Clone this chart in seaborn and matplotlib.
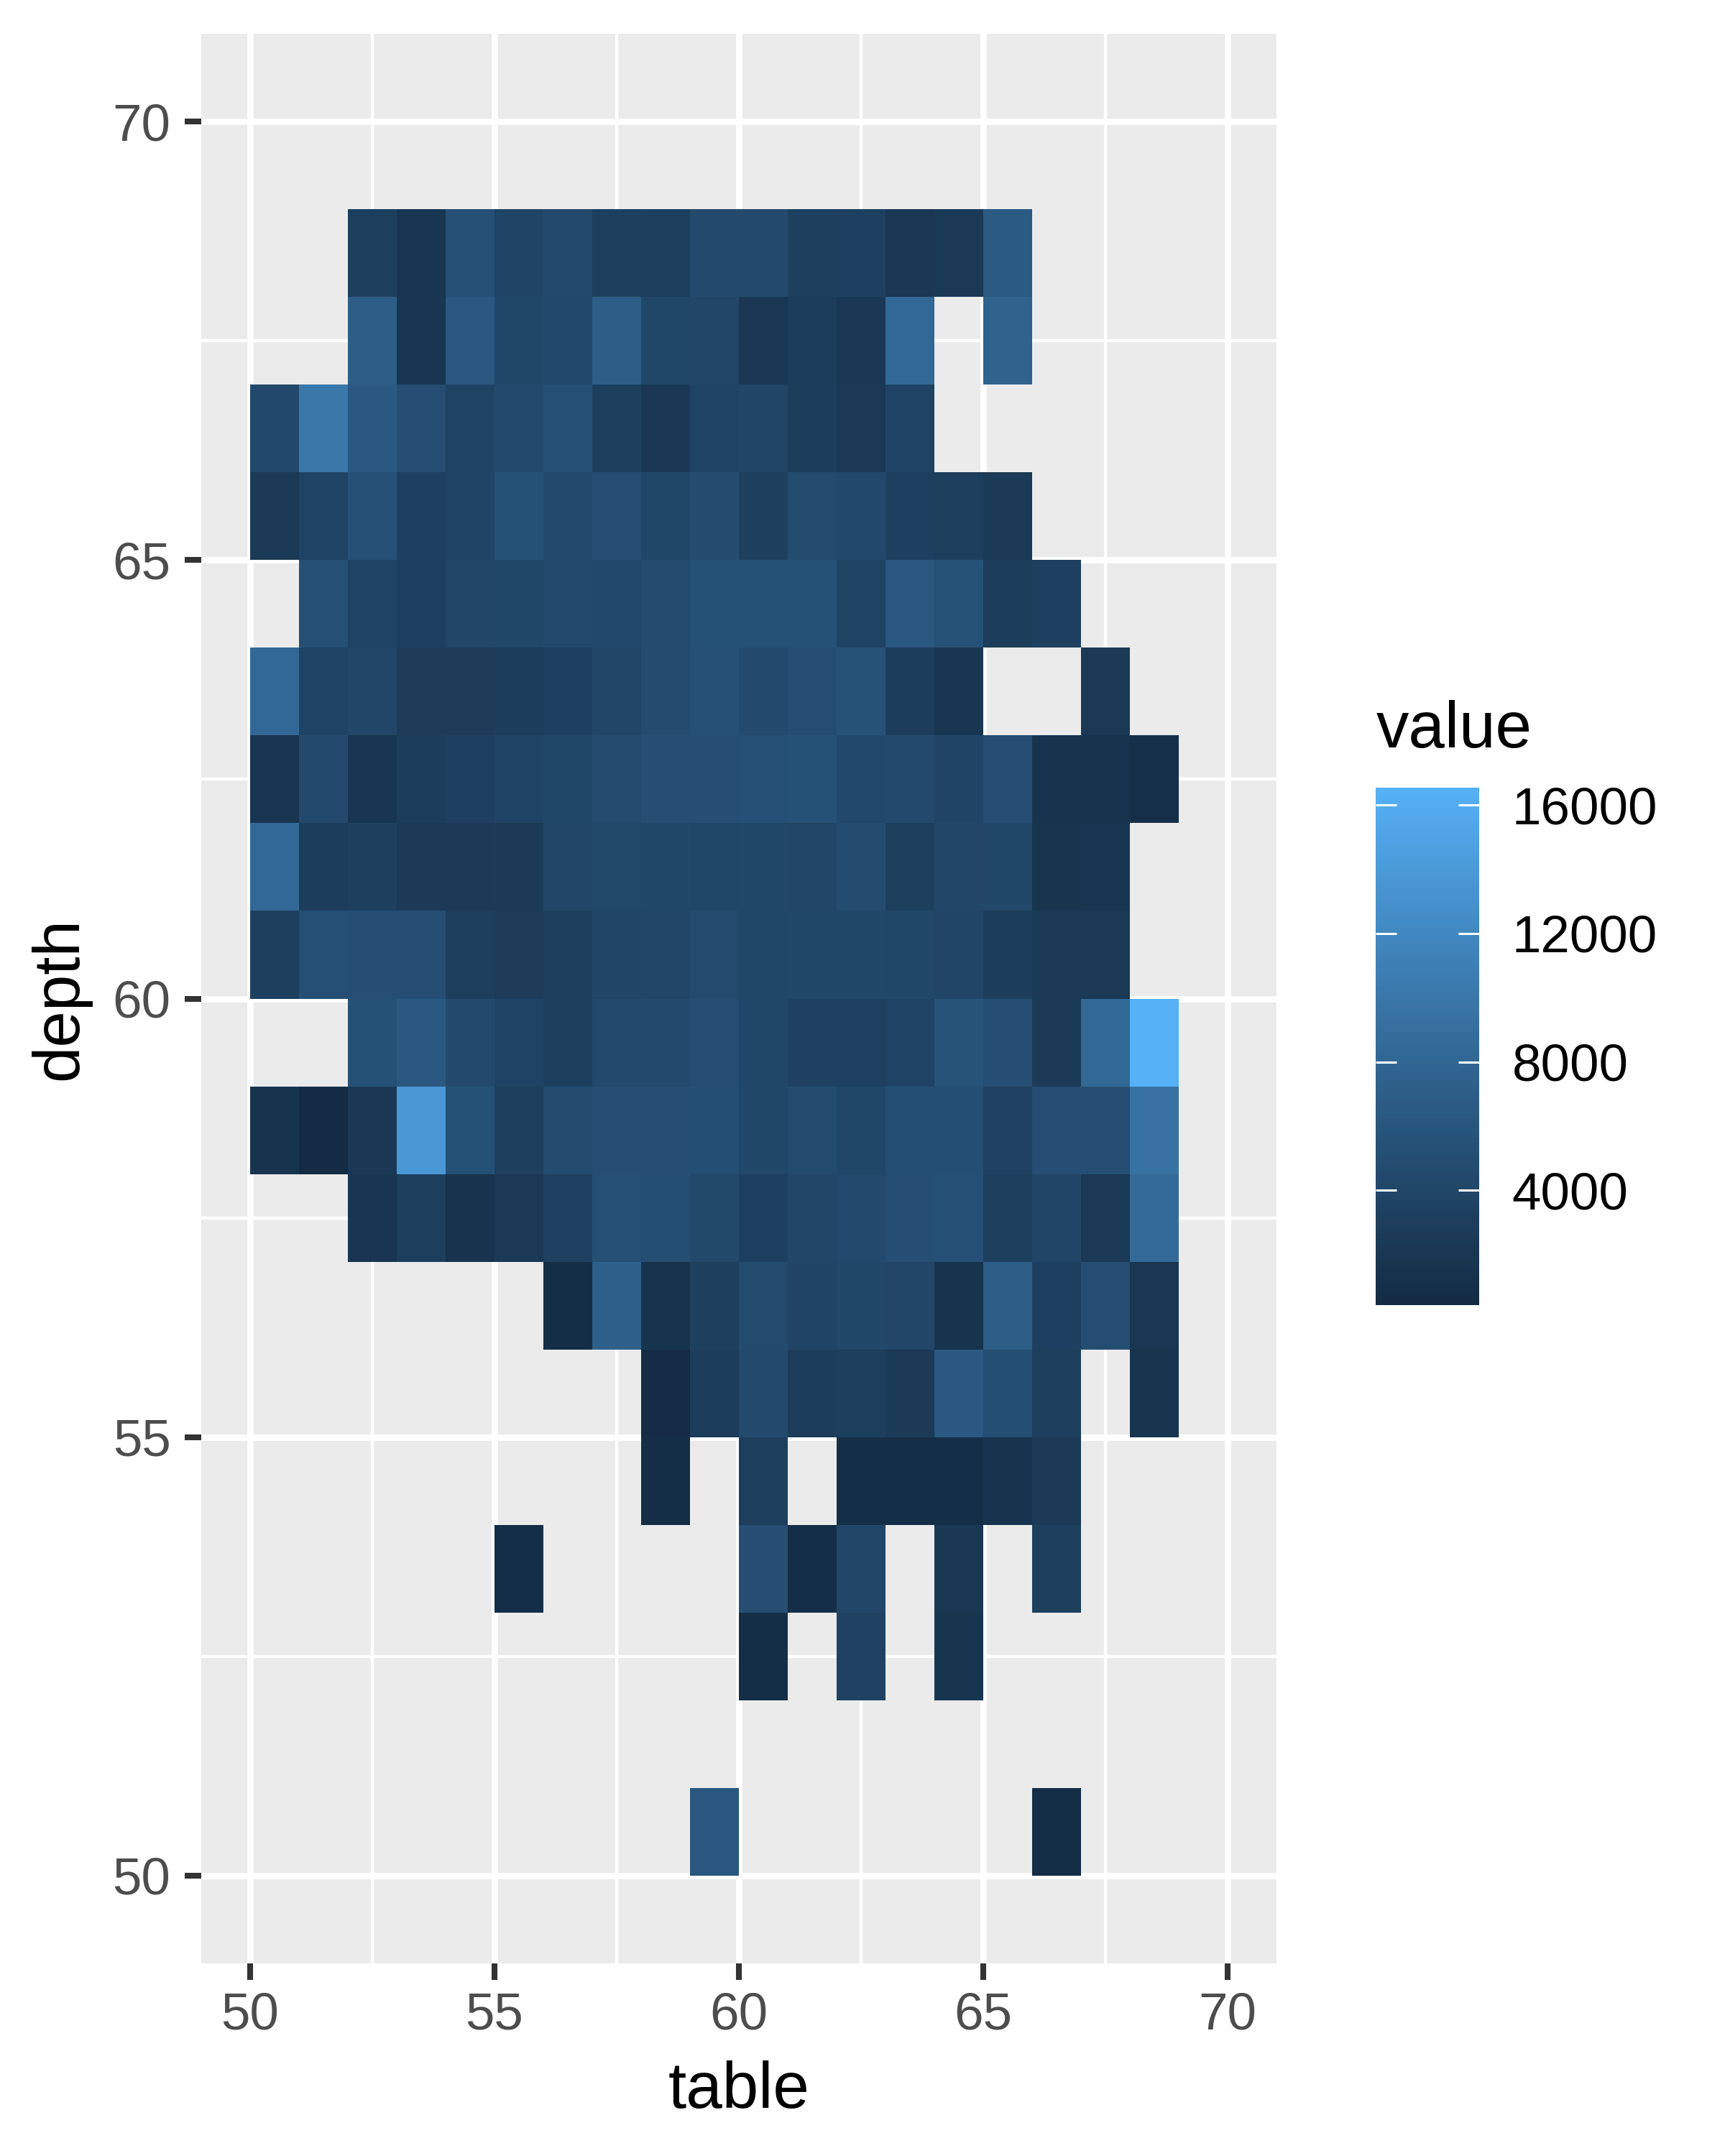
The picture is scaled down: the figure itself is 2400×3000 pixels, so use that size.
import numpy as np
import pandas as pd
import seaborn as sns
import matplotlib.pyplot as plt
from matplotlib.colors import LinearSegmentedColormap, to_rgb

na = np.nan

# table bins, one column per value in each row below
tables = list(range(50, 69))

depth_68 = [na, na, 3100, 1900, 5300, 3800, 4600, 3200, 3100, 4500, 4500, 3200, 3300, 2000, 2400, 6500, na, na, na]
depth_67 = [na, na, 7000, 1900, 6200, 4100, 4400, 7000, 4100, 4000, 2100, 2900, 2200, 8200, na, 7600, na, na, na]
depth_66 = [4400, 10100, 6300, 4900, 3600, 4500, 5200, 3200, 2200, 3600, 3900, 2900, 2300, 3700, na, na, na, na, na]
depth_65 = [2500, 3700, 5300, 3300, 3600, 5400, 4600, 4900, 4100, 4800, 3200, 4700, 4400, 3300, 3100, 2500, na, na, na]
depth_64 = [na, 5200, 3600, 3300, 4000, 4200, 4500, 4400, 4800, 5400, 5400, 5400, 3600, 6100, 5600, 2800, 3300, na, na]
depth_63 = [8200, 3700, 4000, 2700, 2700, 2800, 3300, 4000, 4800, 5200, 4600, 4900, 5500, 2900, 1900, na, na, 2400, na]
depth_62 = [1900, 4600, 1900, 2800, 3300, 3700, 4100, 4700, 5000, 5000, 5200, 5400, 4400, 4600, 3800, 4900, 1600, 1400, 950]
depth_61 = [8200, 2800, 3200, 2500, 2500, 2600, 4000, 4300, 4200, 4100, 4200, 4000, 4800, 3200, 4000, 4200, 1800, 1900, na]
depth_60 = [3200, 5200, 5000, 5000, 3100, 2700, 3200, 3900, 4000, 4700, 4100, 4200, 4200, 4100, 3900, 2800, 2300, 2300, na]
depth_59 = [na, na, 5400, 6300, 4600, 3700, 3200, 4500, 4500, 4900, 4100, 3400, 3400, 3700, 5700, 5000, 2500, 8200, 16500]
depth_58 = [1600, 500, 2200, 13700, 5400, 3200, 4700, 5000, 5000, 5100, 4200, 4700, 4100, 5100, 5100, 3500, 5000, 5000, 9400]
depth_57 = [na, na, 1900, 3100, 1500, 2400, 3400, 5200, 5100, 4300, 3300, 4000, 4600, 5000, 5200, 3100, 3900, 2400, 8500]
depth_56 = [na, na, na, na, na, na, 800, 7200, 1600, 3200, 4700, 3800, 4200, 4000, 1600, 7000, 3300, 4900, 2000]
depth_55 = [na, na, na, na, na, na, na, na, 600, 2900, 4500, 2800, 3100, 2500, 6300, 5100, 3100, na, 1800]
depth_54 = [na, na, na, na, na, na, na, na, 800, na, 3000, na, 900, 900, 900, 1500, 2500, na, na]
depth_53 = [na, na, na, na, na, 900, na, na, na, na, 5000, 900, 4000, na, 2000, na, 3200, na, na]
depth_52 = [na, na, na, na, na, na, na, na, na, na, 800, na, 3500, na, 1800, na, na, na, na]
depth_50 = [na, na, na, na, na, na, na, na, na, 6200, na, na, na, na, na, na, 800, na, na]

depths = [68, 67, 66, 65, 64, 63, 62, 61, 60, 59, 58, 57, 56, 55, 54, 53, 52, 50]
rows = [depth_68, depth_67, depth_66, depth_65, depth_64, depth_63, depth_62, depth_61, depth_60,
        depth_59, depth_58, depth_57, depth_56, depth_55, depth_54, depth_53, depth_52, depth_50]

axis_ticks = [50, 55, 60, 65, 70]
minor_ticks = [52.5, 57.5, 62.5, 67.5]
value_ticks = [4000, 8000, 12000, 16000]
value_min, value_max = 430, 16540


def rgb_to_lab(c):
    c = np.array(to_rgb(c))
    c = np.where(c > 0.04045, ((c + 0.055) / 1.055) ** 2.4, c / 12.92)
    m = np.array([[0.4124, 0.3576, 0.1805], [0.2126, 0.7152, 0.0722], [0.0193, 0.1192, 0.9505]])
    xyz = m @ c / np.array([0.95047, 1.0, 1.08883])
    f = np.where(xyz > 0.008856, np.cbrt(xyz), 7.787 * xyz + 16 / 116)
    return np.array([116 * f[1] - 16, 500 * (f[0] - f[1]), 200 * (f[1] - f[2])])


def lab_to_rgb(lab):
    fy = (lab[0] + 16) / 116
    f = np.array([fy + lab[1] / 500, fy, fy - lab[2] / 200])
    xyz = np.where(f ** 3 > 0.008856, f ** 3, (f - 16 / 116) / 7.787) * np.array([0.95047, 1.0, 1.08883])
    m = np.array([[3.2406, -1.5372, -0.4986], [-0.9689, 1.8758, 0.0415], [0.0557, -0.2040, 1.0570]])
    c = np.clip(m @ xyz, 0, 1)
    return np.where(c > 0.0031308, 1.055 * c ** (1 / 2.4) - 0.055, 12.92 * c)


# ggplot's default blue gradient is interpolated in Lab
low, high = rgb_to_lab('#132B43'), rgb_to_lab('#56B1F7')
cmap = LinearSegmentedColormap.from_list('gg_blues', [lab_to_rgb(low + (high - low) * t) for t in np.linspace(0, 1, 64)], N=512)

df = pd.DataFrame(rows, index=depths, columns=tables)
# pad to the full axis range so heatmap cell edges line up with 49..71
full = list(range(49, 71))
df = df.reindex(index=full, columns=full)

plt.rcParams['font.family'] = ['Liberation Sans', 'DejaVu Sans']

W, H = 2400, 3000
fig = plt.figure(figsize=(12, 15), dpi=200)
ax = fig.add_axes([280 / W, 1 - 2732 / H, (1776 - 280) / W, (2732 - 47) / H])
cax = fig.add_axes([1914 / W, 1 - 1816 / H, 144 / W, 720 / H])

sns.heatmap(df, ax=ax, cbar_ax=cax, cmap=cmap, vmin=value_min, vmax=value_max,
            xticklabels=False, yticklabels=False, cbar_kws={'ticks': value_ticks})
ax.invert_yaxis()
ax.set_facecolor('#EBEBEB')
for s in ax.spines.values():
    s.set_visible(False)

ax.set_xticks([v - 49 for v in axis_ticks], labels=[str(v) for v in axis_ticks])
ax.set_yticks([v - 49 for v in axis_ticks], labels=[str(v) for v in axis_ticks], rotation=0)
ax.set_xticks([v - 49 for v in minor_ticks], minor=True)
ax.set_yticks([v - 49 for v in minor_ticks], minor=True)
ax.set_axisbelow(True)
ax.grid(True, which='major', color='white', linewidth=3.1)
ax.grid(True, which='minor', color='white', linewidth=1.55)
ax.tick_params(which='minor', length=0)
ax.tick_params(which='major', length=8.3, width=2.9, color='#333333', labelcolor='#4D4D4D',
               labelsize=26.2, bottom=True, left=True)
ax.tick_params(axis='x', pad=6)
ax.tick_params(axis='y', labelrotation=0, pad=7)
ax.set_xlabel('table', fontsize=32.7, labelpad=10)
ax.set_ylabel('depth', fontsize=32.7, labelpad=11)

cax.tick_params(length=0, labelsize=26.2, pad=16.5, labelcolor='black')
cax.hlines(value_ticks, 0, 0.2, color='white', linewidth=1.1, transform=cax.get_yaxis_transform())
cax.hlines(value_ticks, 0.8, 1, color='white', linewidth=1.1, transform=cax.get_yaxis_transform())
fig.text(1915 / W, 1 - 1040 / H, 'value', fontsize=32.7, ha='left', va='baseline')

fig.savefig('out.png', dpi=200, facecolor='white')
